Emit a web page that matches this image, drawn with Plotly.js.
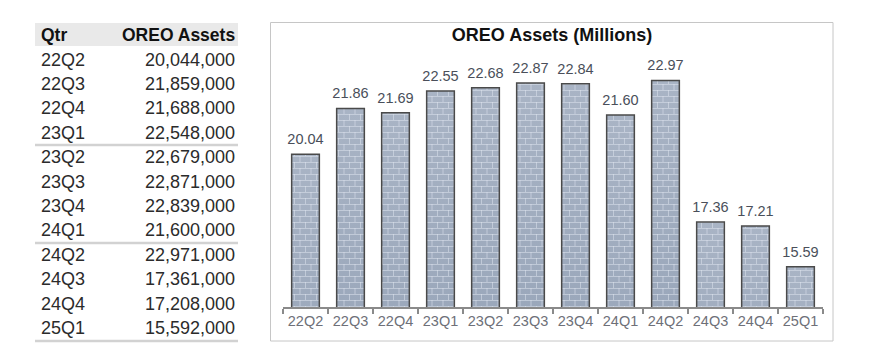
<!DOCTYPE html>
<html>
<head>
<meta charset="utf-8">
<script src="https://cdn.plot.ly/plotly-3.0.1.min.js"></script>
<style>html,body{margin:0;padding:0;background:#fff;}#chart{width:870px;height:360px;}</style>
</head>
<body>
<div id="chart"></div>
<script>
// ---- data ----
const quarters = ['22Q2','22Q3','22Q4','23Q1','23Q2','23Q3','23Q4','24Q1','24Q2','24Q3','24Q4','25Q1'];
const oreoAssets = [20044000, 21859000, 21688000, 22548000, 22679000, 22871000, 22839000, 21600000, 22971000, 17361000, 17208000, 15592000];
const tableHeader = ['Qtr', 'OREO Assets'];
const chartTitle = 'OREO Assets (Millions)';

const millions = oreoAssets.map(v => v / 1e6);
const labels = millions.map(v => v.toFixed(2));

// ---- pixel helpers (plot area x 283..823, y 42..307) ----
const PL = 283, PR = 823, PT = 42, PB = 307;
const px = p => (p - PL) / (PR - PL);
const py = p => (PB - p) / (PB - PT);

const FONT = 'Liberation Sans, Arial, sans-serif';

const annotations = [];
const shapes = [];

// table header background
shapes.push({type:'rect', xref:'paper', yref:'paper', x0:px(35), x1:px(238), y0:py(46), y1:py(23),
  fillcolor:'#e9e9e9', line:{width:0}, layer:'below'});
annotations.push({xref:'paper', yref:'paper', x:px(39), y:py(35), xanchor:'left', yanchor:'middle',
  text:'<b>'+tableHeader[0]+'</b>', showarrow:false, font:{family:FONT, size:17.5, color:'#111'}});
annotations.push({xref:'paper', yref:'paper', x:px(237), y:py(35), xanchor:'right', yanchor:'middle',
  text:'<b>'+tableHeader[1]+'</b>', showarrow:false, font:{family:FONT, size:17.5, color:'#111'}});

quarters.forEach((q, i) => {
  const yc = 59.5 + i * 24.4;
  annotations.push({xref:'paper', yref:'paper', x:px(39), y:py(yc), xanchor:'left', yanchor:'middle',
    text:q, showarrow:false, font:{family:FONT, size:18, color:'#2b2b2b'}});
  annotations.push({xref:'paper', yref:'paper', x:px(237), y:py(yc), xanchor:'right', yanchor:'middle',
    text:oreoAssets[i].toLocaleString('en-US'), showarrow:false, font:{family:FONT, size:18, color:'#2b2b2b'}});
});
// group separators
[145, 243, 341].forEach(yy => {
  shapes.push({type:'line', xref:'paper', yref:'paper', x0:px(35), x1:px(238), y0:py(yy), y1:py(yy),
    line:{color:'#d2d2d2', width:2.5}});
});
// chart panel border
shapes.push({type:'rect', xref:'paper', yref:'paper', x0:px(270.5), x1:px(833), y0:py(341), y1:py(22.5),
  line:{color:'#c6c6c6', width:1}, fillcolor:'rgba(0,0,0,0)', layer:'below'});

const data = [{
  type:'bar',
  x: quarters,
  y: millions,
  text: labels,
  textposition:'outside',
  constraintext:'none',
  cliponaxis:false,
  textfont:{family:FONT, size:14.5, color:'#4a4f5a'},
  width:0.615,
  marker:{color:'#97a4b8', line:{color:'#4a4a4a', width:1.5}},
  hoverinfo:'none'
}];

const layout = {
  width:870, height:360,
  margin:{l:PL, r:870-PR, t:PT, b:360-PB, pad:0},
  paper_bgcolor:'#fff', plot_bgcolor:'#fff',
  showlegend:false,
  title:{text:'<b>'+chartTitle+'</b>', x:px(552), xref:'paper', xanchor:'center',
    y:1-35/360, yref:'container', yanchor:'middle', font:{family:FONT, size:18, color:'#111'}},
  xaxis:{type:'category', range:[-0.5, 11.5], showline:true, linecolor:'#8a8a8a', linewidth:1.5,
    ticks:'outside', tickson:'boundaries', ticklen:5, tickcolor:'#8a8a8a', tickwidth:1.5,
    tickfont:{family:FONT, size:14.5, color:'#6e7078'}, showgrid:false, zeroline:false, fixedrange:true},
  yaxis:{range:[14, 14 + (PB-PT)/25.26], visible:false, showgrid:false, zeroline:false, fixedrange:true},
  annotations, shapes,
  bargap:0.385
};

const gd = document.getElementById('chart');
Plotly.newPlot(gd, data, layout, {staticPlot:true, displayModeBar:false}).then(() => {
  const NS = 'http://www.w3.org/2000/svg';
  const svg = gd.querySelector('svg.main-svg');
  const defs = document.createElementNS(NS, 'defs');
  const grad = document.createElementNS(NS, 'linearGradient');
  grad.setAttribute('id', 'oreoGrad');
  grad.setAttribute('x1', '0'); grad.setAttribute('y1', '0');
  grad.setAttribute('x2', '0'); grad.setAttribute('y2', '1');
  [['0', '#a9b4c5'], ['1', '#8494ab']].forEach(([o, c]) => {
    const s = document.createElementNS(NS, 'stop');
    s.setAttribute('offset', o); s.setAttribute('stop-color', c);
    grad.appendChild(s);
  });
  defs.appendChild(grad);
  const pat = document.createElementNS(NS, 'pattern');
  pat.setAttribute('id', 'oreoBrick');
  pat.setAttribute('patternUnits', 'userSpaceOnUse');
  pat.setAttribute('width', '22'); pat.setAttribute('height', '12');
  const p = document.createElementNS(NS, 'path');
  p.setAttribute('d', 'M0,0.5H22M0,6.5H22M0.5,0V6M11.5,0V6M6,6V12M17,6V12');
  p.setAttribute('stroke', 'rgba(225,232,242,0.5)');
  p.setAttribute('stroke-width', '1');
  p.setAttribute('fill', 'none');
  pat.appendChild(p);
  defs.appendChild(pat);
  svg.insertBefore(defs, svg.firstChild);
  gd.querySelectorAll('.barlayer .point path').forEach(path => {
    const clone = path.cloneNode(true);
    path.style.fill = 'url(#oreoGrad)';
    path.style.stroke = 'none';
    clone.style.fill = 'url(#oreoBrick)';
    clone.style.fillOpacity = '1';
    path.parentNode.insertBefore(clone, path.nextSibling);
  });
  // lift outside labels a little to match the reference spacing
  gd.querySelectorAll('.barlayer .point text').forEach(t => {
    const tr = t.getAttribute('transform') || '';
    t.setAttribute('transform', 'translate(0,-4) ' + tr);
  });
});
</script>
</body>
</html>
